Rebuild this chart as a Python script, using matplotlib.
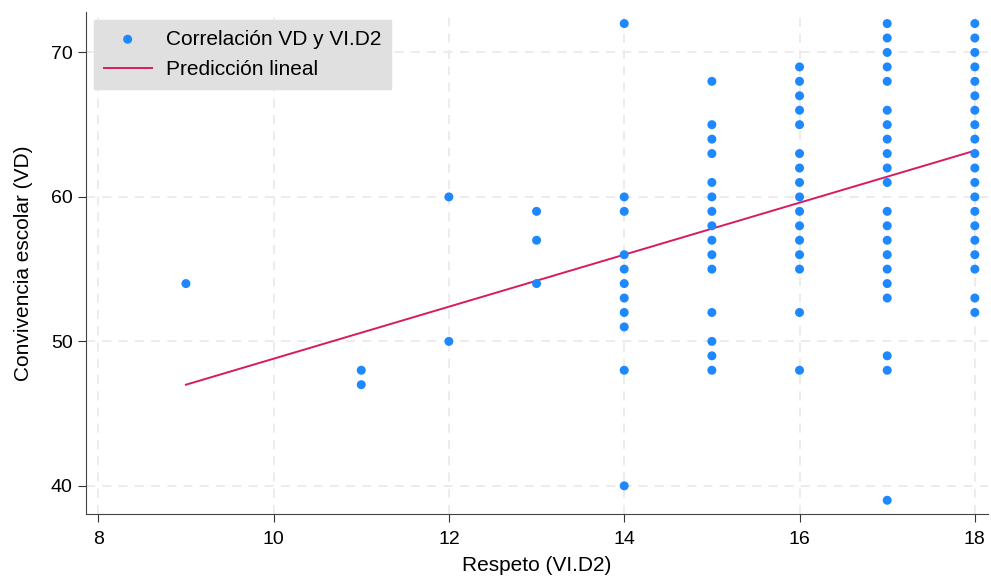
import numpy as np
import matplotlib.pyplot as plt

plt.rcParams['font.family'] = ['Liberation Sans', 'DejaVu Sans']

# valores de convivencia escolar (VD) por cada puntaje de respeto (VI.D2)
respeto_9 = [54]
respeto_11 = [48, 47]
respeto_12 = [60, 50]
respeto_13 = [59, 57, 54]
respeto_14 = [72, 60, 59, 56, 55, 54, 53, 52, 51, 48, 40]
respeto_15 = [68, 65, 64, 63, 61, 60, 59, 58, 57, 56, 55, 52, 50, 49, 48]
respeto_16 = [69, 68, 67, 66, 65, 63, 62, 61, 60, 59, 58, 57, 56, 55, 52, 48]
respeto_17 = [72, 71, 70, 69, 68, 66, 65, 64, 63, 62, 61, 59, 58, 57, 56,
              55, 54, 53, 49, 48, 39]
respeto_18 = [72, 71, 70, 69, 68, 67, 66, 65, 64, 63, 62, 61, 60, 59, 58,
              57, 56, 55, 53, 52]

grupos = {9: respeto_9, 11: respeto_11, 12: respeto_12, 13: respeto_13,
          14: respeto_14, 15: respeto_15, 16: respeto_16, 17: respeto_17,
          18: respeto_18}

x = []
y = []
for k, vals in grupos.items():
    x += [k] * len(vals)
    y += vals
x = np.array(x)
y = np.array(y)

# recta de prediccion
pendiente = 1.8
intercepto = 30.8
x_linea = np.array([9, 18])
y_linea = intercepto + pendiente * x_linea

fig = plt.figure(figsize=(9.91, 5.78), dpi=100)
ax = fig.add_axes([86/991, 1 - 514/578, (988 - 86)/991, (514 - 12)/578])

ax.scatter(x, y, s=42, color='#1e88ff', edgecolors='none',
           label='Correlación VD y VI.D2', zorder=3)
ax.plot(x_linea, y_linea, color='#d81b60', lw=1.4,
        label='Predicción lineal', zorder=2)

ax.set_xlim(7.86, 18.15)
ax.set_ylim(38.05, 72.8)
ax.set_xticks([8, 10, 12, 14, 16, 18])
ax.set_yticks([40, 50, 60, 70])

ax.grid(True, color='#ebebeb', linestyle=(0, (5, 4)), lw=1.3)
ax.set_axisbelow(True)
for s in ['top', 'right']:
    ax.spines[s].set_visible(False)
for s in ['left', 'bottom']:
    ax.spines[s].set_color('#444444')
ax.tick_params(labelsize=14, length=6, color='#333333')
ax.tick_params(axis='x', pad=6)

ax.set_xlabel('Respeto (VI.D2)', fontsize=15, labelpad=6)
ax.set_ylabel('Convivencia escolar (VD)', fontsize=15, labelpad=13)

leg = ax.legend(loc='upper left', fontsize=15, frameon=True, fancybox=False,
                borderaxespad=0.4, handlelength=2.3, handletextpad=0.7,
                borderpad=0.45, labelspacing=0.55)
leg.get_frame().set_facecolor('#e0e0e0')
leg.get_frame().set_edgecolor('#e0e0e0')
leg.get_frame().set_alpha(1)

fig.savefig('out.png', dpi=100)
